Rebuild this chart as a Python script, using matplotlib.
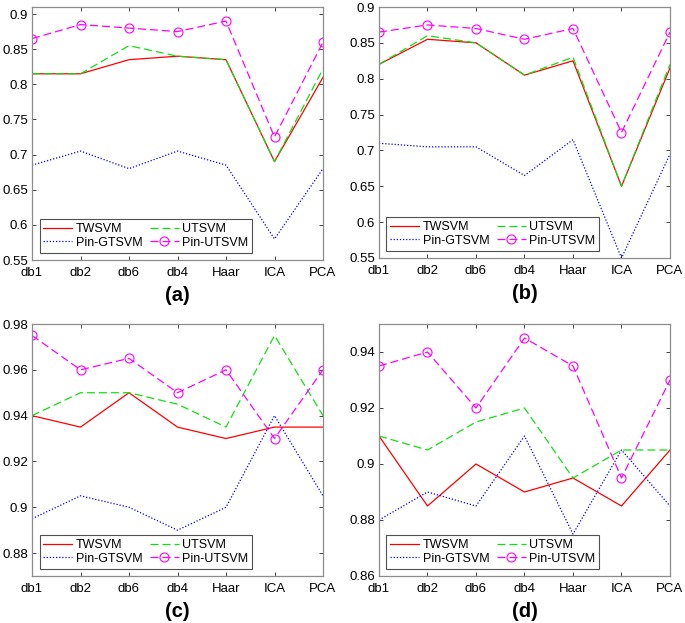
import numpy as np
import matplotlib.pyplot as plt

plt.rcParams['font.family'] = ['Liberation Sans', 'DejaVu Sans']

methods = ["db1", "db2", "db6", "db4", "Haar", "ICA", "PCA"]
panel_labels = ["(a)", "(b)", "(c)", "(d)"]

# panel (a)
twsvm_a = [0.815, 0.815, 0.835, 0.84, 0.835, 0.69, 0.81]
utsvm_a = [0.815, 0.815, 0.855, 0.84, 0.835, 0.69, 0.822]
pingt_a = [0.685, 0.705, 0.68, 0.705, 0.685, 0.58, 0.68]
pinut_a = [0.865, 0.885, 0.88, 0.875, 0.89, 0.725, 0.86]

# panel (b)
twsvm_b = [0.82, 0.855, 0.85, 0.805, 0.825, 0.65, 0.815]
utsvm_b = [0.82, 0.86, 0.85, 0.805, 0.83, 0.65, 0.82]
pingt_b = [0.71, 0.705, 0.705, 0.665, 0.715, 0.55, 0.695]
pinut_b = [0.865, 0.875, 0.87, 0.855, 0.87, 0.725, 0.865]

# panel (c)
twsvm_c = [0.94, 0.935, 0.95, 0.935, 0.93, 0.935, 0.935]
utsvm_c = [0.94, 0.95, 0.95, 0.945, 0.935, 0.975, 0.94]
pingt_c = [0.895, 0.905, 0.9, 0.89, 0.9, 0.94, 0.905]
pinut_c = [0.975, 0.96, 0.965, 0.95, 0.96, 0.93, 0.96]

# panel (d)
twsvm_d = [0.91, 0.885, 0.9, 0.89, 0.895, 0.885, 0.905]
utsvm_d = [0.91, 0.905, 0.915, 0.92, 0.895, 0.905, 0.905]
pingt_d = [0.88, 0.89, 0.885, 0.91, 0.875, 0.905, 0.885]
pinut_d = [0.935, 0.94, 0.92, 0.945, 0.935, 0.895, 0.93]

panels = [
    (twsvm_a, utsvm_a, pingt_a, pinut_a),
    (twsvm_b, utsvm_b, pingt_b, pinut_b),
    (twsvm_c, utsvm_c, pingt_c, pinut_c),
    (twsvm_d, utsvm_d, pingt_d, pinut_d),
]
ylims = [(0.55, 0.91), (0.55, 0.9), (0.87, 0.98), (0.86, 0.95)]
yticks = [np.arange(0.55, 0.901, 0.05), np.arange(0.55, 0.901, 0.05),
          np.arange(0.88, 0.981, 0.02), np.arange(0.86, 0.941, 0.02)]
ytick_labels = [["0.55", "0.6", "0.65", "0.7", "0.75", "0.8", "0.85", "0.9"],
                ["0.55", "0.6", "0.65", "0.7", "0.75", "0.8", "0.85", "0.9"],
                ["0.88", "0.9", "0.92", "0.94", "0.96", "0.98"],
                ["0.86", "0.88", "0.9", "0.92", "0.94"]]

# axes boxes in pixels (left, top, right, bottom)
W, H = 685, 623
rects = [(32, 7, 323, 260), (379, 7, 670, 258),
         (32, 324, 323, 576), (379, 324, 670, 576)]

fig = plt.figure(figsize=(6.85, 6.23), dpi=100)

x = np.arange(len(methods))
for k, (tw, ut, pg, pu) in enumerate(panels):
    l, t, r, b = rects[k]
    ax = fig.add_axes([l / W, 1 - b / H, (r - l) / W, (b - t) / H])
    h1, = ax.plot(x, tw, color="#ff0000", lw=0.9, ls="-", label="TWSVM")
    h2, = ax.plot(x, ut, color="#10e010", lw=0.9, ls=(0, (6.4, 3.2)), label="UTSVM")
    h3, = ax.plot(x, pg, color="#0000ff", lw=0.9, ls=(0, (1, 1.5)), label="Pin-GTSVM")
    h4, = ax.plot(x, pu, color="#ff00ff", lw=0.9, ls=(0, (6.4, 3.2)), marker="o",
                  markersize=6.5, markerfacecolor="none", markeredgewidth=0.8,
                  label="Pin-UTSVM")
    ax.set_xlim(0, len(methods) - 1)
    ax.set_ylim(*ylims[k])
    ax.set_xticks(x)
    ax.set_xticklabels(methods)
    ax.set_yticks(yticks[k])
    ax.set_yticklabels(ytick_labels[k])
    ax.tick_params(direction="in", top=True, right=True, length=3,
                   width=0.6, color="#262626", labelsize=9.5)
    ax.tick_params(axis="x", pad=5)
    ax.tick_params(axis="y", pad=3)
    for sp in ax.spines.values():
        sp.set_color("#8c8c8c")
        sp.set_linewidth(0.9)
    # column-wise fill -> row order TWSVM, UTSVM / Pin-GTSVM, Pin-UTSVM
    leg = ax.legend([h1, h3, h2, h4], ["TWSVM", "Pin-GTSVM", "UTSVM", "Pin-UTSVM"],
                    loc="lower left", ncol=2, fontsize=9, frameon=True,
                    fancybox=False, handlelength=2.3, handletextpad=0.3,
                    columnspacing=0.6, borderpad=0.3, labelspacing=0.15,
                    borderaxespad=0.6)
    leg.get_frame().set_edgecolor("#262626")
    leg.get_frame().set_linewidth(0.8)
    ax.text(0.5, -0.14, panel_labels[k], transform=ax.transAxes,
            ha="center", va="center", fontsize=14.5, fontweight="bold")

fig.savefig("out.png", dpi=100)
